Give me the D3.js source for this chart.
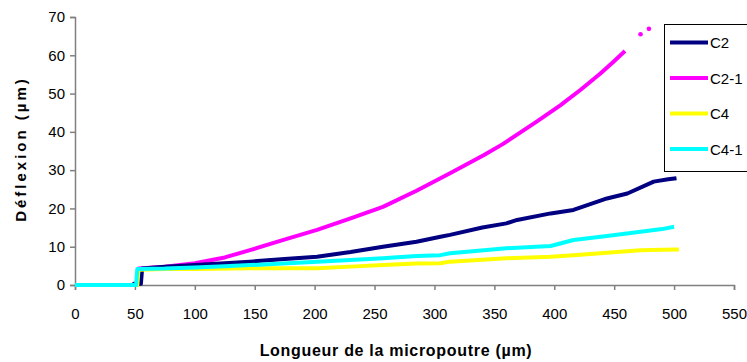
<!DOCTYPE html>
<html><head><meta charset="utf-8">
<script src="https://cdn.jsdelivr.net/npm/d3@7"></script>
<style>body{margin:0;background:#fff}svg{display:block}text{font-family:"Liberation Sans",Arial,sans-serif}</style>
</head><body><svg id="c" width="747" height="362"></svg>
<script>
const seriesNames = ["C2", "C2-1", "C4", "C4-1"];
const seriesColors = ["#000080", "#FF00FF", "#FFFF00", "#00FFFF"];
const xTicks = [0,50,100,150,200,250,300,350,400,450,500,550];
const yTicks = [0,10,20,30,40,50,60,70];

const c2X  = [0,48,49,55,56,75,100,125,146,175,202,230,257,285,305,313,340,360,369,397,416,444,461,483,495,502];
const c2Y  = [0,0,0.3,0.3,4.3,4.8,5.2,5.7,6.1,6.8,7.4,8.6,10.0,11.3,12.6,13.1,15.0,16.1,17.0,18.7,19.6,22.6,23.9,27.0,27.6,27.9];
const c21X = [0,52,53,75,100,125,146,174,202,230,257,285,313,341,357,385,405,422,438,449,459];
const c21Y = [0,0,4.3,4.8,5.7,7.2,9.1,11.8,14.4,17.4,20.4,24.6,29.2,33.9,36.8,42.6,46.9,51.0,55.1,58.2,61.1];
const c21DotsX = [472, 479];
const c21DotsY = [65.5, 66.9];
const c4X  = [0,52,53,75,100,146,202,230,257,285,305,313,360,397,416,444,472,490,504];
const c4Y  = [0,0,4.0,4.2,4.2,4.4,4.4,4.8,5.2,5.6,5.7,6.1,7.0,7.4,7.8,8.4,9.1,9.2,9.3];
const c41X = [0,51,52,75,100,125,146,202,230,257,285,305,313,360,397,416,444,472,490,500];
const c41Y = [0,0,4.2,4.3,4.6,4.9,5.2,6.1,6.5,7.0,7.6,7.8,8.3,9.6,10.2,11.75,12.8,13.9,14.6,15.2];

const svg = d3.select("#c");
const x = d3.scaleLinear().domain([0,550]).range([75,734]);
const y = d3.scaleLinear().domain([0,70]).range([285,17]);

const xAxis = svg.append("g").attr("transform","translate(0,285)")
  .call(d3.axisBottom(x).tickValues(xTicks).tickSize(5).tickPadding(18).tickFormat(d3.format("d")));
const yAxis = svg.append("g").attr("transform","translate(75,0)")
  .call(d3.axisLeft(y).tickValues(yTicks).tickSize(5).tickPadding(5).tickFormat(d3.format("d")));
[xAxis,yAxis].forEach(a=>{
  a.select(".domain").attr("stroke","#808080").attr("stroke-width",1.5);
  a.selectAll(".tick line").attr("stroke","#808080").attr("stroke-width",1.5);
  a.selectAll(".tick text").attr("fill","#000").style("font-size","15px").style("font-family","'Liberation Sans',Arial,sans-serif");
});

const line = d3.line().x(d=>x(d[0])).y(d=>y(d[1]));
const data = [
  {xs:c2X, ys:c2Y, c:seriesColors[0]},
  {xs:c21X, ys:c21Y, c:seriesColors[1]},
  {xs:c4X, ys:c4Y, c:seriesColors[2]},
  {xs:c41X, ys:c41Y, c:seriesColors[3]}
];
const draw = [data[1], data[0], data[2], data[3]];
draw.forEach(s=>{
  svg.append("path").datum(s.xs.map((v,i)=>[v,s.ys[i]]))
    .attr("fill","none").attr("stroke",s.c).attr("stroke-width",4).attr("stroke-linejoin","round")
    .attr("d",line);
});
svg.selectAll("circle.dot").data(c21DotsX.map((v,i)=>[v,c21DotsY[i]])).enter().append("circle")
  .attr("cx",d=>x(d[0])).attr("cy",d=>y(d[1])).attr("r",2.3).attr("fill",seriesColors[1]);

// legend
const lg = svg.append("g");
lg.append("rect").attr("x",664.5).attr("y",24.5).attr("width",100).attr("height",147)
  .attr("fill","#fff").attr("stroke","#000").attr("stroke-width",1);
seriesNames.forEach((n,i)=>{
  const yy = 42.5 + i*35.5;
  lg.append("line").attr("x1",670).attr("x2",708).attr("y1",yy).attr("y2",yy)
    .attr("stroke",seriesColors[i]).attr("stroke-width",4);
  lg.append("text").attr("x",710).attr("y",yy+5.5).text(n).style("font-size","15px");
});

svg.append("text").attr("transform","translate(26,149) rotate(-90)").attr("text-anchor","middle")
  .style("font-size","15px").style("font-weight","bold").style("letter-spacing","3px")
  .text("Déflexion  (µm)");
svg.append("text").attr("x",396).attr("y",356).attr("text-anchor","middle")
  .style("font-size","16px").style("font-weight","bold").style("letter-spacing","0.7px")
  .text("Longueur de la micropoutre (µm)");
</script></body></html>
